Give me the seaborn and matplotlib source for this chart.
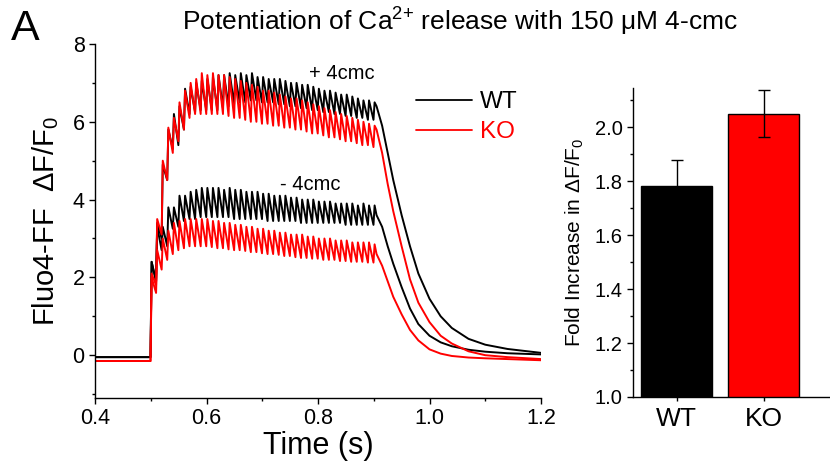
import numpy as np
import pandas as pd
import matplotlib
matplotlib.use("Agg")
import matplotlib.pyplot as plt
from matplotlib.ticker import MultipleLocator
from matplotlib.lines import Line2D
import seaborn as sns

# ---------------- data ----------------
# stimulation pulse times (s)
pulse_times = [0.50, 0.51, 0.52, 0.53, 0.54, 0.55, 0.56, 0.57, 0.58, 0.59,
               0.60, 0.61, 0.62, 0.63, 0.64, 0.65, 0.66, 0.67, 0.68, 0.69,
               0.70, 0.71, 0.72, 0.73, 0.74, 0.75, 0.76, 0.77, 0.78, 0.79,
               0.80, 0.81, 0.82, 0.83, 0.84, 0.85, 0.86, 0.87, 0.88, 0.89, 0.90]

baseline_times = [0.40, 0.4995]
baseline_wt = [-0.05, -0.05]
baseline_ko = [-0.15, -0.15]

# + 4cmc
wt_plus_peaks = [2.4, 3.4, 4.9, 5.8, 6.2, 6.4, 6.85, 6.9, 7.0, 7.05,
                 7.1, 7.15, 7.2, 7.2, 7.25, 7.2, 7.25, 7.2, 7.25, 7.15,
                 7.15, 7.1, 7.1, 7.1, 7.05, 7.0, 7.0, 6.95, 6.95, 6.9,
                 6.85, 6.8, 6.8, 6.75, 6.7, 6.7, 6.65, 6.6, 6.55, 6.55, 6.5]
wt_plus_troughs = [1.9, 3.0, 4.5, 5.3, 5.4, 5.8, 6.2, 6.25, 6.3, 6.3,
                   6.3, 6.3, 6.35, 6.4, 6.45, 6.5, 6.5, 6.55, 6.55, 6.5,
                   6.5, 6.5, 6.45, 6.45, 6.4, 6.4, 6.35, 6.35, 6.3, 6.3,
                   6.25, 6.25, 6.2, 6.2, 6.15, 6.15, 6.1, 6.1, 6.05, 6.05]
ko_plus_peaks = [2.1, 3.5, 5.0, 5.85, 6.1, 6.5, 6.8, 7.0, 7.1, 7.25,
                 7.2, 7.25, 7.2, 7.2, 7.15, 7.1, 7.05, 7.0, 6.95, 6.9,
                 6.8, 6.8, 6.75, 6.7, 6.65, 6.6, 6.6, 6.55, 6.5, 6.45,
                 6.4, 6.35, 6.3, 6.25, 6.2, 6.15, 6.1, 6.05, 6.0, 5.95, 5.9]
ko_plus_troughs = [1.8, 3.1, 4.5, 5.2, 5.5, 5.8, 6.1, 6.2, 6.2, 6.2,
                   6.2, 6.2, 6.2, 6.15, 6.1, 6.1, 6.05, 6.0, 6.0, 5.95,
                   5.95, 5.9, 5.9, 5.85, 5.85, 5.8, 5.8, 5.75, 5.7, 5.7,
                   5.65, 5.6, 5.6, 5.55, 5.5, 5.5, 5.45, 5.4, 5.4, 5.35]

# - 4cmc
wt_minus_peaks = [2.4, 3.3, 3.3, 3.8, 3.8, 4.1, 4.1, 4.2, 4.25, 4.3,
                  4.3, 4.3, 4.3, 4.25, 4.3, 4.25, 4.25, 4.2, 4.2, 4.2,
                  4.15, 4.15, 4.1, 4.1, 4.1, 4.05, 4.05, 4.0, 4.0, 4.0,
                  3.95, 3.95, 3.95, 3.9, 3.9, 3.9, 3.9, 3.85, 3.9, 3.85, 3.85]
wt_minus_troughs = [1.9, 2.7, 2.8, 3.25, 3.3, 3.45, 3.5, 3.5, 3.55, 3.55,
                    3.55, 3.55, 3.55, 3.55, 3.5, 3.5, 3.5, 3.5, 3.5, 3.5,
                    3.45, 3.45, 3.45, 3.45, 3.45, 3.45, 3.4, 3.4, 3.4, 3.4,
                    3.4, 3.4, 3.4, 3.4, 3.35, 3.35, 3.35, 3.35, 3.35, 3.35]
ko_minus_peaks = [2.0, 2.7, 3.0, 3.2, 3.4, 3.45, 3.5, 3.5, 3.5, 3.5,
                  3.5, 3.45, 3.45, 3.4, 3.4, 3.35, 3.35, 3.3, 3.3, 3.25,
                  3.25, 3.2, 3.2, 3.15, 3.15, 3.1, 3.1, 3.1, 3.05, 3.05,
                  3.0, 3.0, 3.0, 2.95, 2.95, 2.95, 2.9, 2.9, 2.9, 2.9, 2.85]
ko_minus_troughs = [1.6, 2.2, 2.45, 2.6, 2.7, 2.75, 2.8, 2.8, 2.8, 2.8,
                    2.78, 2.75, 2.75, 2.72, 2.7, 2.7, 2.68, 2.65, 2.65, 2.62,
                    2.6, 2.6, 2.58, 2.55, 2.55, 2.52, 2.5, 2.5, 2.48, 2.48,
                    2.45, 2.45, 2.45, 2.42, 2.42, 2.4, 2.4, 2.4, 2.38, 2.38]

# decay after stimulation
decay_times = [0.905, 0.915, 0.925, 0.935, 0.95, 0.965, 0.98, 1.0, 1.02,
               1.04, 1.07, 1.1, 1.14, 1.2]
wt_plus_decay = [6.4, 5.9, 5.2, 4.5, 3.6, 2.8, 2.1, 1.45, 1.0, 0.7, 0.42, 0.27, 0.16, 0.06]
ko_plus_decay = [5.8, 5.2, 4.4, 3.7, 2.8, 1.95, 1.35, 0.85, 0.5, 0.3, 0.1, 0.0, -0.05, -0.1]
wt_minus_decay = [3.6, 3.3, 2.8, 2.35, 1.75, 1.2, 0.8, 0.5, 0.33, 0.23, 0.14, 0.09, 0.05, 0.02]
ko_minus_decay = [2.6, 2.3, 1.9, 1.5, 1.05, 0.65, 0.38, 0.15, 0.04, -0.02, -0.06, -0.08, -0.1, -0.13]

# bar chart
genotypes = ["WT", "KO"]
fold_increase = [1.78, 2.05]
fold_sem = [0.097, 0.087]
colors = {"WT": "#000000", "KO": "#ff0000"}


def build_trace(base, peaks, troughs, decay):
    t = list(baseline_times)
    v = list(base)
    for k, pt in enumerate(pulse_times):
        t.append(pt + 0.0015)
        v.append(peaks[k])
        if k < len(troughs):
            t.append(pt + 0.0095)
            v.append(troughs[k])
    t += decay_times
    v += decay
    return t, v


rows = []
for geno, cond, base, pk, tr, dc in [
    ("WT", "plus", baseline_wt, wt_plus_peaks, wt_plus_troughs, wt_plus_decay),
    ("KO", "plus", baseline_ko, ko_plus_peaks, ko_plus_troughs, ko_plus_decay),
    ("WT", "minus", baseline_wt, wt_minus_peaks, wt_minus_troughs, wt_minus_decay),
    ("KO", "minus", baseline_ko, ko_minus_peaks, ko_minus_troughs, ko_minus_decay),
]:
    t, v = build_trace(base, pk, tr, dc)
    for ti, vi in zip(t, v):
        rows.append({"t": ti, "v": vi, "genotype": geno, "trace": geno + cond})
df = pd.DataFrame(rows)

# ---------------- style ----------------
sns.set_theme(style="ticks")
plt.rcParams["font.family"] = ["Liberation Sans", "DejaVu Sans"]
plt.rcParams["mathtext.fontset"] = "custom"
plt.rcParams["mathtext.rm"] = "Liberation Sans"
plt.rcParams["mathtext.it"] = "Liberation Sans:italic"
plt.rcParams["axes.linewidth"] = 1.0
plt.rcParams["axes.edgecolor"] = "#000000"
plt.rcParams["text.color"] = "#000000"
plt.rcParams["axes.labelcolor"] = "#000000"
plt.rcParams["xtick.color"] = "#000000"
plt.rcParams["ytick.color"] = "#000000"
plt.rcParams["xtick.direction"] = "out"
plt.rcParams["ytick.direction"] = "out"

fig = plt.figure(figsize=(8.3, 4.73), dpi=100)
ax = fig.add_axes([0.1145, 0.1586, 0.5373, 0.7484])
ax2 = fig.add_axes([0.7627, 0.1607, 0.2373, 0.6533])

# ---------------- traces ----------------
sns.lineplot(data=df, x="t", y="v", hue="genotype", units="trace",
             estimator=None, palette=colors, linewidth=1.4, sort=False,
             legend=False, ax=ax)
ax.set_xlim(0.4, 1.2)
ax.set_ylim(-1.1, 8.0)
ax.xaxis.set_major_locator(MultipleLocator(0.2))
ax.xaxis.set_minor_locator(MultipleLocator(0.1))
ax.yaxis.set_major_locator(MultipleLocator(2))
ax.yaxis.set_minor_locator(MultipleLocator(1))
ax.xaxis.set_major_formatter(matplotlib.ticker.FormatStrFormatter("%.1f"))
ax.tick_params(which="major", length=4, width=1.0, labelsize=15.5)
ax.tick_params(which="minor", length=2.5, width=1.0)
sns.despine(ax=ax)
ax.set_xlabel("Time (s)", fontsize=22, labelpad=1)
ax.set_ylabel("Fluo4-FF  ΔF/F$_\\mathregular{0}$", fontsize=21, labelpad=8)
ax.text(0.843, 7.25, "+ 4cmc", fontsize=14.5, ha="center", va="center")
ax.text(0.786, 4.4, "- 4cmc", fontsize=14.5, ha="center", va="center")

handles = [Line2D([], [], color=colors[g], lw=1.3) for g in genotypes]
leg = ax.legend(handles, genotypes, loc="upper left",
                bbox_to_anchor=(0.67, 0.929), frameon=False, fontsize=17.5,
                handlelength=2.3, handletextpad=0.35, labelspacing=0.33)
for txt, g in zip(leg.get_texts(), genotypes):
    txt.set_color(colors[g])

# ---------------- bars ----------------
sns.barplot(x=genotypes, y=fold_increase, hue=genotypes, palette=colors,
            saturation=1, width=0.82, edgecolor="#000000", linewidth=1.0,
            legend=False, ax=ax2)
ax2.errorbar(x=[0, 1], y=fold_increase, yerr=fold_sem, fmt="none",
             ecolor="#000000", elinewidth=1.0, capsize=4, capthick=1.0)
ax2.set_xlim(-0.5, 1.76)
ax2.set_ylim(1.0, 2.145)
ax2.yaxis.set_major_locator(MultipleLocator(0.2))
ax2.yaxis.set_minor_locator(MultipleLocator(0.1))
ax2.yaxis.set_major_formatter(matplotlib.ticker.FormatStrFormatter("%.1f"))
ax2.tick_params(axis="y", which="major", length=4, width=1.0, labelsize=14.5)
ax2.tick_params(axis="y", which="minor", length=2.5, width=1.0)
ax2.tick_params(axis="x", which="major", length=3, width=1.0, labelsize=19, pad=4)
sns.despine(ax=ax2)
ax2.set_ylabel("Fold Increase in ΔF/F$_\\mathregular{0}$", fontsize=15, labelpad=6)
ax2.set_xlabel("")

# ---------------- titles ----------------
fig.text(0.554, 0.953, "Potentiation of Ca$^\\mathregular{2{+}}$ release with 150 μM 4-cmc",
         fontsize=19, ha="center", va="center")
fig.text(0.013, 0.938, "A", fontsize=31, ha="left", va="center")

fig.savefig("out.png", dpi=100)
